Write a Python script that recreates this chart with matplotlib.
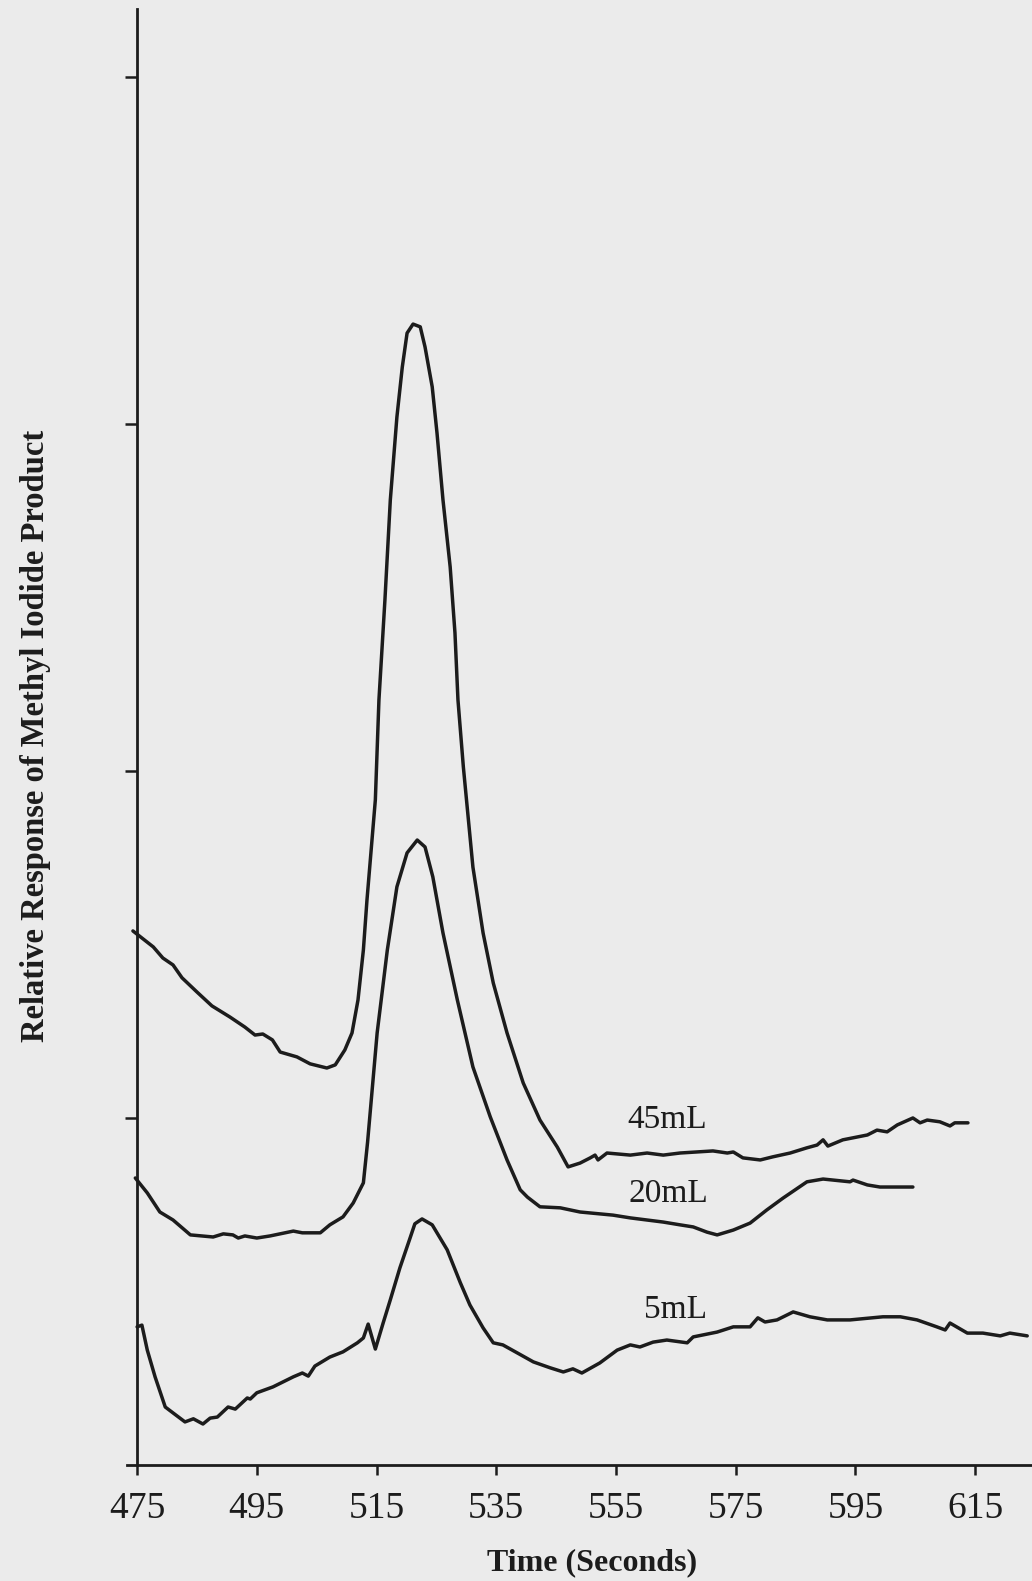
import matplotlib
matplotlib.use('Agg')
import matplotlib.pyplot as plt
import numpy as np

# series names
labels = ['45mL', '20mL', '5mL']

# 45 mL trace (time in s, relative response)
t45 = [474.3, 477.7, 479.3, 481.0, 482.5, 485.0, 487.5, 490.5, 493.0, 494.7, 496.0, 497.6,
       498.9, 501.7, 503.9, 506.7, 508.1, 509.7, 510.9, 511.9, 512.8, 513.4, 514.8, 515.4,
       516.4, 517.3, 518.4, 519.3, 520.1, 521.1, 522.3, 523.1, 524.3, 525.1, 526.1, 527.3,
       528.1, 528.6, 529.5, 531.1, 532.8, 534.5, 536.8, 539.5, 542.3, 545.2, 547.0, 549.0,
       550.7, 551.5, 552.0, 553.5, 557.4, 560.2, 562.9, 565.7, 571.2, 573.6, 574.6, 576.2,
       579.1, 581.2, 584.1, 586.9, 588.6, 589.6, 590.4, 592.9, 597.0, 598.6, 600.3, 602.0,
       604.6, 605.8, 607.0, 609.1, 610.8, 611.6, 613.8]
r45 = [1.539, 1.493, 1.461, 1.441, 1.404, 1.363, 1.323, 1.291, 1.262, 1.239, 1.242, 1.225,
       1.190, 1.176, 1.156, 1.144, 1.153, 1.196, 1.245, 1.340, 1.484, 1.628, 1.917, 2.205,
       2.493, 2.781, 3.020, 3.164, 3.262, 3.288, 3.280, 3.222, 3.107, 2.974, 2.781, 2.588,
       2.398, 2.205, 2.012, 1.723, 1.533, 1.389, 1.245, 1.101, 0.994, 0.916, 0.859, 0.870,
       0.885, 0.893, 0.879, 0.899, 0.893, 0.899, 0.893, 0.899, 0.905, 0.899, 0.902, 0.885,
       0.879, 0.888, 0.899, 0.914, 0.922, 0.937, 0.919, 0.937, 0.951, 0.965, 0.960, 0.980,
       1.000, 0.986, 0.994, 0.989, 0.977, 0.986, 0.986]

# 20 mL trace
t20 = [474.7, 476.7, 478.8, 481.0, 483.9, 487.7, 489.4, 491.0, 491.9, 493.0, 495.0, 497.2,
       501.1, 502.6, 505.6, 507.2, 509.4, 511.1, 512.8, 513.5, 515.1, 516.8, 518.4, 520.1,
       521.8, 523.1, 524.4, 526.1, 528.5, 531.1, 534.0, 536.8, 539.0, 540.2, 542.3, 545.7,
       549.0, 554.5, 557.4, 562.9, 565.7, 567.9, 570.2, 571.9, 574.6, 577.4, 580.2, 582.9,
       586.9, 589.6, 591.3, 594.1, 594.6, 597.0, 599.1, 604.6]
r20 = [0.827, 0.784, 0.729, 0.706, 0.663, 0.657, 0.666, 0.663, 0.654, 0.660, 0.654, 0.660,
       0.674, 0.669, 0.669, 0.692, 0.715, 0.755, 0.813, 0.930, 1.245, 1.484, 1.666, 1.764,
       1.801, 1.781, 1.695, 1.533, 1.340, 1.147, 1.003, 0.879, 0.793, 0.772, 0.744, 0.741,
       0.729, 0.720, 0.712, 0.700, 0.692, 0.686, 0.671, 0.663, 0.677, 0.697, 0.735, 0.769,
       0.816, 0.824, 0.821, 0.816, 0.821, 0.807, 0.801, 0.801]

# 5 mL trace
t5 = [475.0, 475.8, 476.7, 478.0, 479.7, 481.0, 483.0, 484.4, 486.0, 487.2, 488.4, 490.2,
      491.4, 493.4, 493.9, 495.0, 497.7, 501.1, 502.6, 503.6, 504.7, 507.2, 509.4, 511.8,
      512.8, 513.6, 514.8, 516.1, 517.3, 518.9, 520.6, 521.4, 522.6, 524.3, 526.8, 529.0,
      530.6, 532.8, 534.5, 536.1, 538.5, 541.2, 544.0, 546.2, 547.8, 549.3, 552.3, 555.2,
      557.4, 559.0, 561.2, 563.5, 566.9, 567.9, 571.9, 574.6, 577.4, 578.7, 579.9, 581.9,
      584.6, 587.4, 590.3, 594.1, 599.6, 602.5, 605.3, 608.6, 610.0, 610.8, 613.7, 616.3,
      619.2, 620.8, 623.7]
r5 = [0.398, 0.403, 0.331, 0.254, 0.167, 0.150, 0.124, 0.133, 0.118, 0.135, 0.138, 0.167,
      0.161, 0.193, 0.190, 0.208, 0.225, 0.254, 0.265, 0.256, 0.285, 0.311, 0.326, 0.352,
      0.366, 0.406, 0.334, 0.409, 0.476, 0.568, 0.654, 0.695, 0.709, 0.692, 0.620, 0.525,
      0.461, 0.395, 0.352, 0.346, 0.323, 0.297, 0.280, 0.268, 0.277, 0.265, 0.294, 0.331,
      0.346, 0.340, 0.354, 0.360, 0.352, 0.369, 0.383, 0.398, 0.398, 0.424, 0.412, 0.418,
      0.441, 0.427, 0.418, 0.418, 0.427, 0.427, 0.418, 0.398, 0.389, 0.409, 0.380, 0.380,
      0.372, 0.380, 0.372]

x_ticks = [475, 495, 515, 535, 555, 575, 595, 615]
y_ticks = [1, 2, 3, 4]

bg = '#ebebeb'
ink = '#1c1c1c'
serif = ['Liberation Serif', 'DejaVu Serif']

fig = plt.figure(figsize=(10.32, 15.81), dpi=100, facecolor=bg)
ax = fig.add_axes([0.123, 0.0734, 0.877, 0.9209])
ax.set_facecolor(bg)

for t, r in [(t45, r45), (t20, r20), (t5, r5)]:
    ax.plot(t, r, color=ink, lw=2.5, solid_joinstyle='round', solid_capstyle='round')

ax.text(563.5, 0.994, labels[0], fontsize=24, family=serif, color=ink, ha='center', va='center')
ax.text(563.7, 0.781, labels[1], fontsize=24, family=serif, color=ink, ha='center', va='center')
ax.text(564.9, 0.447, labels[2], fontsize=24, family=serif, color=ink, ha='center', va='center')

ax.set_xlim(473.3, 624.5)
ax.set_ylim(0, 4.196)
ax.spines['top'].set_visible(False)
ax.spines['right'].set_visible(False)
ax.spines['left'].set_position(('data', 475))
for s in ['left', 'bottom']:
    ax.spines[s].set_linewidth(2.0)
    ax.spines[s].set_color(ink)

ax.set_xticks(x_ticks)
ax.set_xticklabels([str(v) for v in x_ticks], fontsize=27, family=serif, color=ink)
ax.set_yticks(y_ticks)
ax.set_yticklabels([])
ax.tick_params(axis='x', direction='out', length=7, width=1.8, color=ink, pad=12)
ax.tick_params(axis='y', direction='out', length=8.5, width=1.8, color=ink)

fig.text(592 / 1032, 0.0114, 'Time (Seconds)', fontsize=23, fontweight='bold',
         family=serif, color=ink, ha='center', va='center')
fig.text(36 / 1032, (1581 - 736) / 1581, 'Relative Response of Methyl Iodide Product',
         fontsize=23.5, fontweight='bold', family=serif, color=ink,
         rotation=90, ha='center', va='center')

fig.savefig('out.png', dpi=100, facecolor=bg)
